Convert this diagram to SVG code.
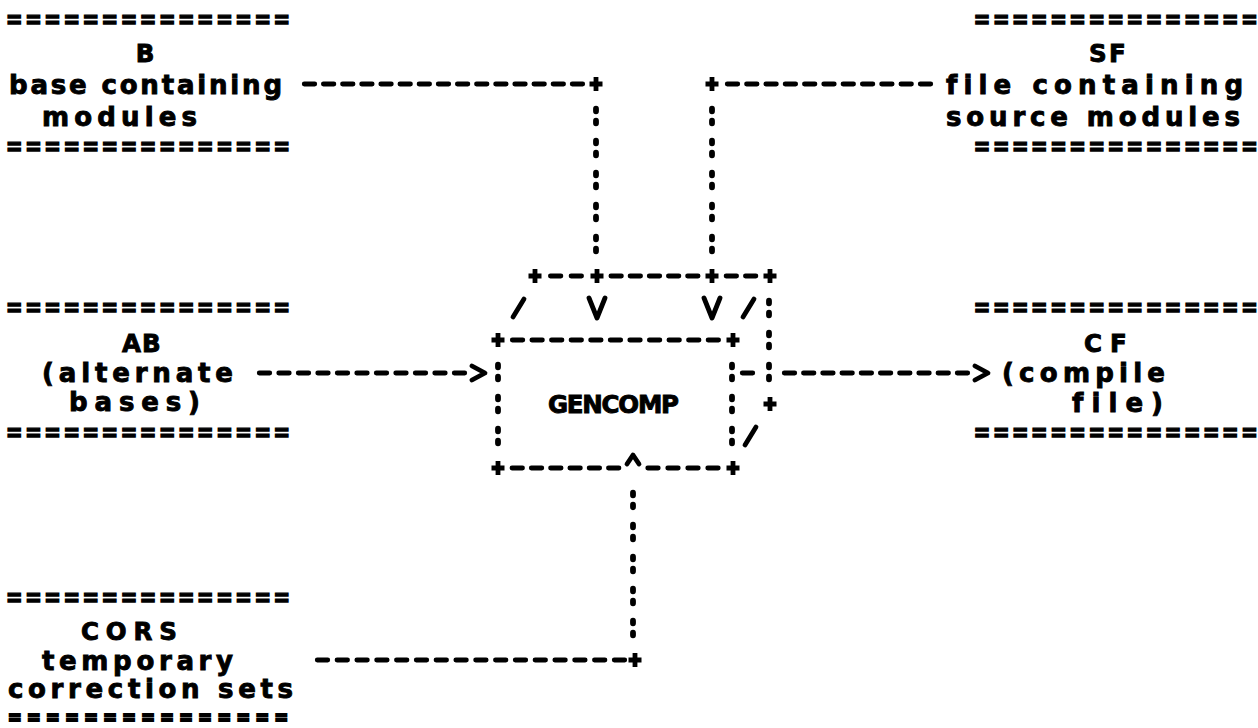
<svg xmlns="http://www.w3.org/2000/svg" width="1258" height="728" viewBox="0 0 1258 728">
<style>
.t{font-family:"DejaVu Sans","Liberation Sans",sans-serif;font-weight:bold;font-size:26px;fill:#000;stroke:#000;stroke-width:0.9;font-variant-ligatures:none}
.u{font-family:"DejaVu Sans","Liberation Sans",sans-serif;font-weight:bold;font-size:24.5px;fill:#000;stroke:#000;stroke-width:0.9;font-variant-ligatures:none}
.eq{font-family:"DejaVu Sans Mono","Liberation Mono",monospace;font-weight:bold;font-size:24px;fill:#000;stroke:#000;stroke-width:1.4}
.eqs{font-family:"DejaVu Sans Mono","Liberation Mono",monospace;font-weight:bold;font-size:20px;fill:#000;stroke:#000;stroke-width:1.8}
.d{stroke:#000;stroke-width:4.8;stroke-linecap:round;fill:none}
.c{stroke:#000;stroke-width:5.8;stroke-linecap:round;fill:none;stroke-dasharray:2.5 9.5 2.5 17.5}
.p{stroke:#000;stroke-width:4.8;fill:none}
.a{stroke:#000;stroke-width:4.8;fill:none;stroke-linecap:round;stroke-linejoin:round}
</style>
<defs><path id="plus" d="M-6.5 0H6.5M0 -7V7"/></defs>
<rect width="1258" height="728" fill="#fff"/>

<g id="node-B">
<text class="eq" x="7.1" y="28" textLength="281.85" lengthAdjust="spacing">===============</text>
<text class="u" x="145" y="62" text-anchor="middle">B</text>
<text class="t" x="9" y="94" textLength="273" lengthAdjust="spacing">base containing</text>
<text class="t" x="42" y="126" textLength="155" lengthAdjust="spacing">modules</text>
<text class="eq" x="7.1" y="155" textLength="281.85" lengthAdjust="spacing">===============</text>
</g>

<g id="node-SF">
<text class="eq" x="974.8" y="28" textLength="281.85" lengthAdjust="spacing">===============</text>
<text class="u" x="1089 1109" y="62">SF</text>
<text class="t" x="946" y="94" textLength="297" lengthAdjust="spacing">file containing</text>
<text class="t" x="946" y="126" textLength="294" lengthAdjust="spacing">source modules</text>
<text class="eq" x="974.8" y="155" textLength="281.85" lengthAdjust="spacing">===============</text>
</g>

<g id="node-AB">
<text class="eq" x="7.1" y="316" textLength="281.85" lengthAdjust="spacing">===============</text>
<text class="u" x="122 142" y="352">AB</text>
<text class="t" x="42" y="382" textLength="191" lengthAdjust="spacing">(alternate</text>
<text class="t" x="69" y="411" textLength="131" lengthAdjust="spacing">bases)</text>
<text class="eq" x="7.1" y="441" textLength="281.85" lengthAdjust="spacing">===============</text>
</g>

<g id="node-CF">
<text class="eq" x="974.8" y="316" textLength="281.85" lengthAdjust="spacing">===============</text>
<text class="u" x="1084 1110" y="352">CF</text>
<text class="t" x="1002" y="382" textLength="163" lengthAdjust="spacing">(compile</text>
<text class="t" x="1072" y="412" textLength="91" lengthAdjust="spacing">file)</text>
<text class="eq" x="974.8" y="441" textLength="281.85" lengthAdjust="spacing">===============</text>
</g>

<g id="node-CORS">
<text class="eq" x="7.1" y="606" textLength="281.85" lengthAdjust="spacing">===============</text>
<text class="u" x="81" y="640" textLength="96" lengthAdjust="spacing">CORS</text>
<text class="t" x="42" y="670" textLength="191" lengthAdjust="spacing">temporary</text>
<text class="t" x="8" y="698" textLength="285" lengthAdjust="spacing">correction sets</text>
<text class="eqs" x="8.8" y="723.5" textLength="278.5" lengthAdjust="spacing">===============</text>
</g>

<g id="node-GENCOMP">
<line class="d" x1="550.4" y1="276" x2="581.6" y2="276" stroke-dasharray="10.5 10.17"/>
<line class="d" x1="610.9" y1="276" x2="698.1" y2="276" stroke-dasharray="10.5 8.67"/>
<line class="d" x1="726.1" y1="276" x2="755.9" y2="276" stroke-dasharray="10.5 8.83"/>
<use href="#plus" class="p" x="535" y="276"/>
<use href="#plus" class="p" x="597" y="276"/>
<use href="#plus" class="p" x="712" y="276"/>
<use href="#plus" class="p" x="770" y="276"/>
<line class="c" x1="769" y1="300.75" x2="769" y2="379.25"/>
<use href="#plus" class="p" x="770" y="404"/>
<line class="a" x1="524" y1="299" x2="513" y2="317"/>
<line class="a" x1="754" y1="299" x2="743" y2="317"/>
<line class="a" x1="756" y1="427" x2="745" y2="445"/>
<line class="d" x1="512.3" y1="340" x2="718.6" y2="340" stroke-dasharray="10.5 9.08"/>
<use href="#plus" class="p" x="498" y="340"/>
<use href="#plus" class="p" x="733" y="340"/>
<line class="c" x1="498" y1="364.75" x2="498" y2="443.25"/>
<line class="c" x1="732" y1="364.75" x2="732" y2="443.25"/>
<line class="d" x1="512" y1="468" x2="619" y2="468" stroke-dasharray="10.5 8.79"/>
<line class="d" x1="647.75" y1="468" x2="718.25" y2="468" stroke-dasharray="10.5 9.5"/>
<use href="#plus" class="p" x="498" y="468"/>
<use href="#plus" class="p" x="733" y="468"/>
<text class="u" x="548" y="413" textLength="131" lengthAdjust="spacing">GENCOMP</text>
</g>

<g id="connectors">
<line class="d" x1="304.25" y1="84" x2="582.75" y2="84" stroke-dasharray="10.5 8.64"/>
<use href="#plus" class="p" x="596" y="84"/>
<line class="c" x1="596" y1="108.75" x2="596" y2="251.25"/>
<path class="a" d="M589 298L597 318L605 298"/>
<line class="d" x1="727.25" y1="84" x2="930.75" y2="84" stroke-dasharray="10.5 8.8"/>
<use href="#plus" class="p" x="712" y="84"/>
<line class="c" x1="712" y1="108.75" x2="712" y2="251.25"/>
<path class="a" d="M704 298L712 318L720 298"/>
<line class="d" x1="259.25" y1="373" x2="464.75" y2="373" stroke-dasharray="10.5 9"/>
<path class="a" d="M472 366L485 373L472 380"/>
<line class="d" x1="742.25" y1="373" x2="752.75" y2="373"/>
<line class="d" x1="784.25" y1="373" x2="967.75" y2="373" stroke-dasharray="10.5 8.72"/>
<path class="a" d="M975 366L988 373L975 380"/>
<line class="d" x1="317.25" y1="660" x2="624.75" y2="660" stroke-dasharray="10.5 9.3"/>
<use href="#plus" class="p" x="635" y="660"/>
<line class="c" x1="633" y1="492.75" x2="633" y2="635.25"/>
<path class="a" d="M627 464L633 455L639 464"/>
</g>
</svg>
